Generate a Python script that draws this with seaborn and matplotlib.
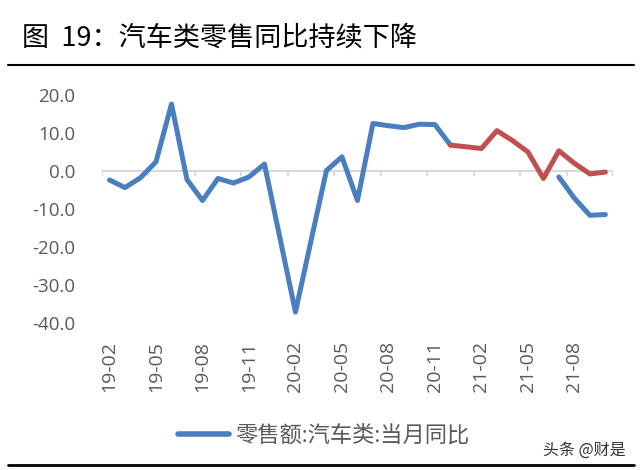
import matplotlib.pyplot as plt
import numpy as np
import pandas as pd
import seaborn as sns
from matplotlib.lines import Line2D

# monthly categories, Feb 2019 - Oct 2021 (Jan is merged into Feb in the source data)
months = ['19-02', '19-03', '19-04', '19-05', '19-06', '19-07', '19-08', '19-09', '19-10', '19-11', '19-12',
          '20-01', '20-02', '20-03', '20-04', '20-05', '20-06', '20-07', '20-08', '20-09', '20-10', '20-11', '20-12',
          '21-01', '21-02', '21-03', '21-04', '21-05', '21-06', '21-07', '21-08', '21-09', '21-10']
nan = np.nan
# 零售额:汽车类:当月同比 (%)
yoy = [-2.4, -4.4, -1.8, 2.4, 17.6, -2.3, -7.8, -2.0, -3.2, -1.6, 1.8,
       nan, -37.2, -18.5, 0.1, 3.7, -7.8, 12.5, 11.9, 11.4, 12.3, 12.2, 6.8,
       nan, nan, nan, nan, nan, nan, nan, nan, nan, nan]
# 2021 two-year average growth (red)
two_year = [nan] * 22 + [6.8, nan, 5.9, 10.6, 8.0, 5.0, -2.0, 5.3, 2.0, -0.8, -0.3]
# 2021 recent yoy (blue tail)
yoy_2021 = [nan] * 29 + [-1.6, -7.2, -11.7, -11.5]

legend_label = '零售额:汽车类:当月同比'
title = '图  19：汽车类零售同比持续下降'

sns.set_theme(style='white')
plt.rcParams['font.family'] = ['Open Sans', 'Noto Sans CJK SC', 'DejaVu Sans']

df = pd.DataFrame({'pos': np.arange(len(months)), 'month': months,
                   'yoy': yoy, 'two_year': two_year, 'yoy_2021': yoy_2021})

fig = plt.figure(figsize=(6.4, 4.7), dpi=100)
ax = fig.add_axes([0.159, 0.3134, 0.799, 0.4845])

blue = '#4a7ebf'
red = '#c0504d'

ax.axhline(0, color='#d9d9d9', lw=1.5, zorder=1)
ax.vlines(np.arange(-0.5, len(months), 3), 0, -1.3, color='#d9d9d9', lw=1.3, zorder=1)

for col, color in [('yoy', blue), ('two_year', red), ('yoy_2021', blue)]:
    d = df.dropna(subset=[col])
    sns.lineplot(data=d, x='pos', y=col, color=color, lw=3.6, ax=ax, legend=False,
                 solid_capstyle='round', solid_joinstyle='round', zorder=3)

ax.set_xlim(-0.5, len(months) - 0.5)
ax.set_ylim(-40, 20)
ax.set_yticks(np.arange(-40, 21, 10))
ax.set_yticklabels([f'{v:.1f}' for v in np.arange(-40, 21, 10)])
ax.set_xticks(np.arange(0, len(months), 3))
ax.set_xticklabels(months[::3], rotation=90)
ax.tick_params(axis='y', length=0, pad=19, labelsize=13.5, labelcolor='#595959')
ax.tick_params(axis='x', length=0, pad=13, labelsize=14, labelcolor='#595959')
ax.set_xlabel('')
ax.set_ylabel('')
for s in ax.spines.values():
    s.set_visible(False)

leg_handle = Line2D([], [], color=blue, lw=4, solid_capstyle='round')
fig.legend(handles=[leg_handle], labels=[legend_label], loc='center', bbox_to_anchor=(0.506, 0.072),
           frameon=False, fontsize=16, handlelength=2.3, handletextpad=0.3, labelcolor='#595959')

fig.text(0.035, 1 - 38 / 470, title, fontsize=19.5, va='center', ha='left', color='black',
         family=['Noto Sans CJK SC', 'DejaVu Sans'])
fig.add_artist(Line2D([0.012, 0.99], [1 - 65 / 470, 1 - 65 / 470], color='black', lw=1.5))
fig.add_artist(Line2D([0.012, 0.99], [1 - 465 / 470, 1 - 465 / 470], color='black', lw=2))
fig.text(0.978, 1 - 450 / 470, '头条 @财是', fontsize=11.5, ha='right', va='center', color='#333333',
         family=['Noto Sans CJK SC', 'DejaVu Sans'])

fig.savefig('out.png', dpi=100)
